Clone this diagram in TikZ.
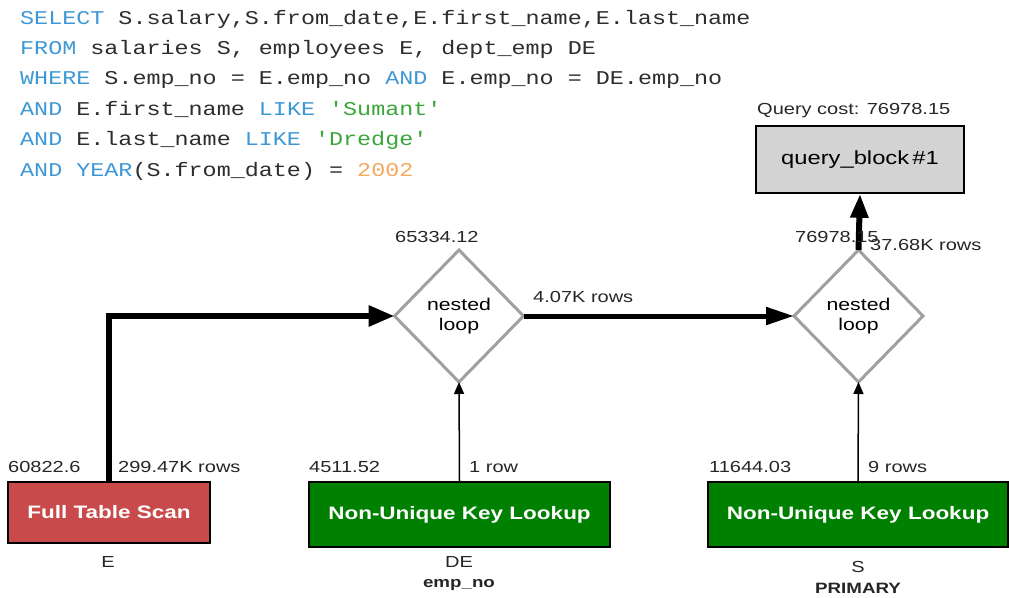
\documentclass[tikz,border=0pt]{standalone}
\usepackage{fontspec}
\usetikzlibrary{shapes.geometric,arrows.meta}
\newfontfamily\lbl[FakeStretch=1.25]{Liberation Sans}
\newfontfamily\sqlf[FakeStretch=1.2]{Liberation Mono}
\definecolor{kw}{RGB}{62,152,214}
\definecolor{tx}{RGB}{45,45,45}
\definecolor{st}{RGB}{58,165,58}
\definecolor{nm}{RGB}{245,168,92}
\definecolor{ftsred}{RGB}{200,74,74}
\definecolor{lkgreen}{RGB}{0,128,0}
\definecolor{qbgray}{RGB}{211,211,211}
\definecolor{dgray}{RGB}{160,160,160}
\tikzset{
  sqlline/.style={anchor=base west, inner sep=0pt, font=\sqlf\fontsize{19.5}{22}\selectfont, text=tx},
  lab/.style={anchor=base west, inner sep=0pt, font=\lbl\fontsize{16}{18}\selectfont, text=black!85},
  clab/.style={anchor=base, inner sep=0pt, font=\lbl\fontsize{16}{18}\selectfont, text=black!85},
  blab/.style={anchor=base, inner sep=0pt, font=\lbl\bfseries\fontsize{15}{18}\selectfont, text=black!85},
  opbox/.style={draw=black, line width=1.5pt, inner sep=0pt, text=white, font=\lbl\bfseries\fontsize{18}{20}\selectfont},
  joinnode/.style={diamond, draw=dgray, line width=3pt, fill=white, inner sep=0pt, outer sep=0pt, minimum width=129pt, minimum height=132pt, align=center, font=\lbl\fontsize{17}{19}\selectfont},
  fatarrow/.style={line width=6pt, -{Triangle[length=26pt,width=20pt]}},
  midarrow/.style={line width=5pt, -{Triangle[length=28pt,width=17pt]}},
  thinarrow/.style={line width=1.5pt, -{Triangle[length=12pt,width=10pt]}},
}
\begin{document}
\begin{tikzpicture}[x=1pt,y=-1pt]
\useasboundingbox (0,0) rectangle (1009,597);
% SQL
\node[sqlline] (q1) at (20,24) {\textcolor{kw}{SELECT} S.salary,S.from\_date,E.first\_name,E.last\_name};
\node[sqlline] (q2) at (20,54.4) {\textcolor{kw}{FROM} salaries S, employees E, dept\_emp DE};
\node[sqlline] (q3) at (20,84.8) {\textcolor{kw}{WHERE} S.emp\_no = E.emp\_no \textcolor{kw}{AND} E.emp\_no = DE.emp\_no};
\node[sqlline] (q4) at (20,115.2) {\textcolor{kw}{AND} E.first\_name \textcolor{kw}{LIKE} \textcolor{st}{'Sumant'}};
\node[sqlline] (q5) at (20,145.6) {\textcolor{kw}{AND} E.last\_name \textcolor{kw}{LIKE} \textcolor{st}{'Dredge'}};
\node[sqlline] (q6) at (20,176) {\textcolor{kw}{AND} \textcolor{kw}{YEAR}(S.from\_date) = \textcolor{nm}{2002}};

% query block
\node[lab] (cost) at (757,114) {Query cost: 76978.15};
\node[draw=black, line width=1.5pt, fill=qbgray, inner sep=0pt, minimum width=208pt, minimum height=67pt, font=\lbl\fontsize{19}{21}\selectfont] (qb) at (860,159.5) {query\_block\,\#1};

% nested loops
\node[joinnode] (nl1) at (459,316) {nested\\[1pt]loop};
\node[joinnode] (nl2) at (858.5,316) {nested\\[1pt]loop};

% operation boxes
\node[opbox, fill=ftsred, minimum width=202pt, minimum height=61pt] (fts) at (109,512.5) {Full Table Scan};
\node[opbox, fill=lkgreen, minimum width=301pt, minimum height=65pt] (de) at (459.5,514.5) {Non-Unique Key Lookup};
\node[opbox, fill=lkgreen, minimum width=300pt, minimum height=65pt] (s) at (858,514.5) {Non-Unique Key Lookup};

% connectors
\draw[fatarrow] (fts.north) |- (nl1.west);
\draw[midarrow] (nl1.east) -- (nl2.west);
\draw[fatarrow, -{Triangle[length=24pt,width=17pt]}] (nl2.north) -- (qb.south);
\draw[thinarrow] (de.north) -- (nl1.south);
\draw[thinarrow] (s.north) -- (nl2.south);

% labels
\node[lab] (c1) at (395,242) {65334.12};
\node[lab] (c2) at (795,242) {76978.15};
\node[lab] (r2) at (870,250) {37.68K rows};
\node[lab] (r1) at (533,302) {4.07K rows};
\node[lab] (cfts) at (8,472) {60822.6};
\node[lab] (rfts) at (118,472) {299.47K rows};
\node[lab] (cde) at (309,472) {4511.52};
\node[lab] (rde) at (469,472) {1 row};
\node[lab] (cs) at (709,472) {11644.03};
\node[lab] (rs) at (868,472) {9 rows};

\node[clab] (tE) at (108,567) {E};
\node[clab] (tDE) at (459,567) {DE};
\node[blab] (kDE) at (459,587) {emp\_no};
\node[clab] (tS) at (858,572) {S};
\node[blab] (kS) at (858,593) {PRIMARY};
\end{tikzpicture}
\end{document}
